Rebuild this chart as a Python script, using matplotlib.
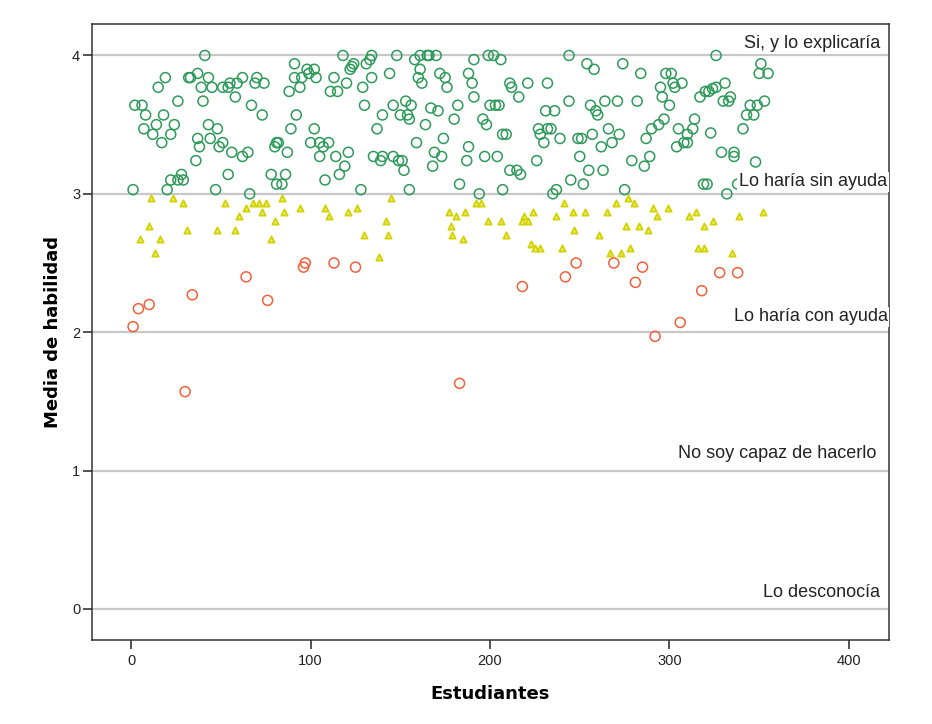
import matplotlib
matplotlib.use("Agg")
import matplotlib.pyplot as plt
import matplotlib.transforms as mtransforms

# ---- data (student index, mean skill) ----
green_x = [41, 2, 6, 8, 15, 19, 7, 12, 14, 18, 17, 22, 24, 26, 32, 33, 37, 43, 39, 45, 40,
           51, 54, 55, 59, 62, 58, 67, 70, 69, 74, 73, 43, 48, 37, 38, 44, 49, 51, 56, 62, 65,
           36, 54, 1, 20, 22, 26, 28, 29, 47, 66, 78, 81, 84, 86, 81, 82, 80, 87, 89, 92, 88,
           91, 91, 94,
           118, 134, 148, 161, 165, 166, 170, 199, 202, 98, 102, 99, 95, 103, 111, 115, 113, 120,
           122, 124, 123, 129, 131, 133, 134, 144, 130, 140, 146, 150, 153, 154, 156, 155, 137,
           164, 167, 171, 180, 182, 158, 161, 160, 162, 172, 175, 176, 191, 188, 190, 191, 206,
           200, 203, 205, 196, 198, 207, 102, 100, 105, 107, 110, 105, 114, 121, 119, 116, 108,
           128, 135, 140, 139, 146, 149, 151, 152, 159, 169, 173, 174, 168, 155, 183, 188, 187,
           197, 204, 194, 207,
           244, 254, 258, 274, 284, 298, 301, 302, 307, 303, 295, 296, 300, 317, 320, 211, 212,
           216, 221, 232, 231, 236, 244, 256, 259, 260, 264, 271, 282, 209, 227, 228, 232, 234,
           230, 239, 249, 251, 257, 266, 272, 262, 268, 287, 290, 294, 297, 305, 304, 308, 310,
           310, 313, 314, 226, 211, 215, 217, 250, 255, 263, 279, 286, 289, 245, 252, 235, 237,
           275, 319,
           326, 351, 350, 355, 331, 326, 324, 322, 330, 333, 334, 345, 349, 353, 343, 347, 341,
           323, 329, 336, 336, 348, 321, 332, 338]
green_y = [4.00, 3.64, 3.64, 3.57, 3.77, 3.84, 3.47, 3.43, 3.50, 3.57, 3.37, 3.43, 3.50, 3.67,
           3.84, 3.84, 3.87, 3.84, 3.77, 3.77, 3.67,
           3.77, 3.77, 3.80, 3.80, 3.84, 3.70, 3.64, 3.84, 3.80, 3.80, 3.57, 3.50, 3.47, 3.40,
           3.34, 3.40, 3.34, 3.37, 3.30, 3.27, 3.30,
           3.24, 3.14, 3.03, 3.03, 3.10, 3.10, 3.14, 3.10, 3.03, 3.00, 3.14, 3.07, 3.07, 3.14,
           3.37, 3.37, 3.34, 3.30, 3.47, 3.57, 3.74, 3.94, 3.84, 3.77,
           4.00, 4.00, 4.00, 4.00, 4.00, 4.00, 4.00, 4.00, 4.00, 3.90, 3.90, 3.87, 3.84, 3.84,
           3.74, 3.74, 3.84, 3.80, 3.90, 3.94, 3.92, 3.77, 3.94, 3.97, 3.84, 3.87, 3.64, 3.57,
           3.64, 3.57, 3.67, 3.57, 3.64, 3.54, 3.47, 3.50, 3.62, 3.60, 3.54, 3.64, 3.97, 3.90,
           3.84, 3.80, 3.87, 3.84, 3.77, 3.97, 3.87, 3.80, 3.70, 3.97, 3.64, 3.64, 3.64, 3.54,
           3.50, 3.43, 3.47, 3.37, 3.37, 3.34, 3.37, 3.27, 3.27, 3.30, 3.20, 3.14, 3.10, 3.03,
           3.27, 3.27, 3.24, 3.27, 3.24, 3.24, 3.17, 3.37, 3.30, 3.27, 3.40, 3.20, 3.03, 3.07,
           3.34, 3.24, 3.27, 3.27, 3.00, 3.03,
           4.00, 3.94, 3.90, 3.94, 3.87, 3.87, 3.87, 3.80, 3.80, 3.77, 3.77, 3.70, 3.64, 3.70,
           3.74, 3.80, 3.77, 3.70, 3.80, 3.80, 3.60, 3.60, 3.67, 3.64, 3.60, 3.57, 3.67, 3.67,
           3.67, 3.43, 3.47, 3.43, 3.47, 3.47, 3.37, 3.40, 3.40, 3.40, 3.43, 3.47, 3.43, 3.34,
           3.37, 3.40, 3.47, 3.50, 3.54, 3.47, 3.34, 3.37, 3.37, 3.43, 3.47, 3.54, 3.24, 3.17,
           3.17, 3.14, 3.27, 3.17, 3.17, 3.24, 3.20, 3.27, 3.10, 3.07, 3.00, 3.03, 3.03, 3.07,
           4.00, 3.94, 3.87, 3.87, 3.80, 3.77, 3.76, 3.74, 3.67, 3.67, 3.70, 3.64, 3.64, 3.67,
           3.57, 3.57, 3.47, 3.44, 3.30, 3.30, 3.27, 3.23, 3.07, 3.00, 3.07]

yellow_x = [11, 23, 29, 52, 64, 60, 68, 71, 75, 73, 84, 85, 94, 80, 78, 10, 5, 16, 13, 31, 48, 58,
            145, 108, 126, 121, 110, 142, 130, 143, 138, 177, 186, 181, 178, 179, 185, 192, 195,
            199, 206, 209,
            241, 270, 277, 280, 291, 299, 224, 246, 253, 265, 315, 219, 218, 221, 237, 293, 311,
            276, 283, 288, 319, 247, 261, 223, 225, 228, 240, 267, 273, 278, 316, 319,
            352, 324, 339, 335]
yellow_y = [2.97, 2.97, 2.93, 2.93, 2.90, 2.84, 2.93, 2.93, 2.93, 2.87, 2.97, 2.87, 2.90, 2.80,
            2.67, 2.77, 2.67, 2.67, 2.57, 2.74, 2.74, 2.74,
            2.97, 2.90, 2.90, 2.87, 2.84, 2.80, 2.70, 2.70, 2.54, 2.87, 2.87, 2.84, 2.77, 2.70,
            2.67, 2.93, 2.93, 2.80, 2.80, 2.70,
            2.93, 2.93, 2.97, 2.93, 2.90, 2.90, 2.87, 2.87, 2.87, 2.87, 2.87, 2.84, 2.80, 2.80,
            2.84, 2.84, 2.84, 2.77, 2.77, 2.74, 2.77, 2.74, 2.70, 2.64, 2.61, 2.61, 2.61, 2.57,
            2.57, 2.61, 2.61, 2.61,
            2.87, 2.80, 2.84, 2.57]

red_x = [1, 4, 10, 30, 34, 64, 76, 96, 97, 113, 125, 183, 218, 242, 248, 269, 281, 285, 292,
         306, 318, 328, 338]
red_y = [2.04, 2.17, 2.20, 1.57, 2.27, 2.40, 2.23, 2.47, 2.50, 2.50, 2.47, 1.63, 2.33, 2.40,
         2.50, 2.50, 2.36, 2.47, 1.97, 2.07, 2.30, 2.43, 2.43]

ref_levels = [4, 3, 2, 1, 0]
ref_labels = ["Si, y lo explicaría", "Lo haría sin ayuda", "Lo haría con ayuda",
              "No soy capaz de hacerlo", "Lo desconocía"]

x_ticks = [0, 100, 200, 300, 400]
y_ticks = [0, 1, 2, 3, 4]

# ---- figure ----
plt.rcParams['font.family'] = ['Liberation Sans', 'DejaVu Sans']
fig = plt.figure(figsize=(9.32, 7.24), dpi=100)
ax = fig.add_axes([0.0987, 0.116, 0.8548, 0.8504])

for lv in ref_levels:
    ax.axhline(lv, color='#C8C8C8', linewidth=1.6, zorder=1)

ax.scatter(green_x, green_y, s=52, facecolors='none', edgecolors='#2E9A5A',
           linewidths=1.1, zorder=3)
ax.scatter(yellow_x, yellow_y, s=20, marker='^', facecolors='#ECEC70',
           edgecolors='#D2D200', linewidths=1.3, zorder=3)
ax.scatter(red_x, red_y, s=52, facecolors='none', edgecolors='#F2603C',
           linewidths=1.1, zorder=3)

trans = mtransforms.blended_transform_factory(ax.transAxes, ax.transData)
label_xpos = [0.989, 0.998, 0.999, 0.985, 0.989]
label_dy = [0.085, 0.087, 0.11, 0.12, 0.115]
for lv, lab, xp, dy in zip(ref_levels, ref_labels, label_xpos, label_dy):
    ax.text(xp, lv + dy, lab, transform=trans, ha='right', va='center',
            fontsize=13, color='#222222', zorder=4,
            bbox=dict(facecolor='white', edgecolor='none', pad=1.0))

ax.set_xlim(-21.9, 422.2)
ax.set_ylim(-0.225, 4.225)
ax.set_xticks(x_ticks)
ax.set_yticks(y_ticks)
ax.tick_params(axis='both', direction='out', length=6.5, width=1.1, labelsize=10.5,
               colors='#222222')
ax.tick_params(axis='y', pad=2)
ax.tick_params(axis='x', pad=3.5)
for sp in ax.spines.values():
    sp.set_color('#333333')
    sp.set_linewidth(1.1)

ax.set_xlabel('Estudiantes', fontsize=13, fontweight='bold', family='DejaVu Sans',
              labelpad=12)
ax.set_ylabel('Media de habilidad', fontsize=13, fontweight='bold', family='DejaVu Sans',
              labelpad=7.5)

fig.savefig('out.png', dpi=100)
